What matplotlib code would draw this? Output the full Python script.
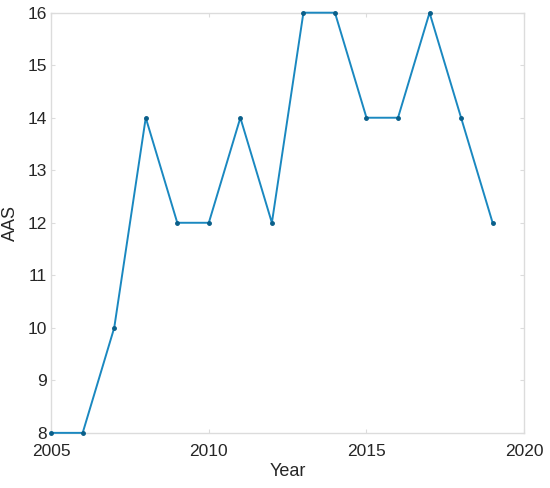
import matplotlib
matplotlib.use('Agg')
import matplotlib.pyplot as plt

years = [2005, 2006, 2007, 2008, 2009, 2010, 2011, 2012, 2013, 2014,
         2015, 2016, 2017, 2018, 2019]
aas = [8, 8, 10, 14, 12, 12, 14, 12, 16, 16, 14, 14, 16, 14, 12]

plt.rcParams.update({
    'font.family': ['Liberation Sans', 'DejaVu Sans'],
    'font.size': 12,
})

fig = plt.figure(figsize=(5.5, 4.88), dpi=100)
ax = fig.add_axes([0.093, 0.113, 0.860, 0.861])

ax.plot(years, aas, '-', color='#1a88c0', lw=1.4, marker='.',
        markersize=5, markerfacecolor='#0a5f8a', markeredgecolor='#0a5f8a',
        clip_on=False, zorder=3)

ax.set_xlim(2005, 2020)
ax.set_ylim(8, 16)
ax.set_xticks([2005, 2010, 2015, 2020])
ax.set_yticks(range(8, 17))
ax.set_xlabel('Year', fontsize=13, color='#262626', labelpad=3)
ax.set_ylabel('AAS', fontsize=13, color='#262626', labelpad=6)

for s in ax.spines.values():
    s.set_color('#dcdcdc')
    s.set_linewidth(1.0)
ax.tick_params(direction='in', length=3, color='#dcdcdc', labelcolor='#262626',
               labelsize=12.5, top=True, right=True, pad=3)
ax.tick_params(axis='x', pad=8)

fig.savefig('out.png', dpi=100)
